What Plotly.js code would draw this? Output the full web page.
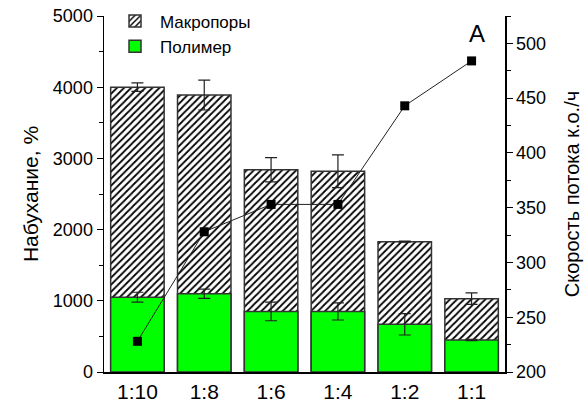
<!DOCTYPE html>
<html><head><meta charset="utf-8">
<script src="https://cdn.plot.ly/plotly-3.0.1.min.js"></script>
<style>body{margin:0;padding:0;background:#fff}#chart{width:588px;height:412px}</style>
</head><body><div id="chart"></div>
<script>
const categories = ["1:10", "1:8", "1:6", "1:4", "1:2", "1:1"];
const totalSwelling = [4000, 3890, 2840, 2820, 1830, 1030];
const totalError = [60, 210, 170, 230, 8, 80];
const polymerSwelling = [1050, 1100, 850, 850, 670, 450];
const polymerError = [70, 65, 130, 120, 150, 10];
const flowRate = [228, 328, 353, 353, 443, 484];

const font = "Liberation Sans, Arial, sans-serif";

const traces = [
  {
    type: "bar", name: "Макропоры", x: categories, y: totalSwelling,
    width: 0.8,
    marker: {color: "#fff", line: {color: "#333", width: 1.5},
      pattern: {shape: "/", fgcolor: "#000", bgcolor: "#fff", size: 5, solidity: 0.35, fillmode: "replace"}},
    error_y: {type: "data", array: totalError, visible: true, color: "#222", thickness: 1.2, width: 6}
  },
  {
    type: "bar", name: "Полимер", x: categories, y: polymerSwelling,
    width: 0.8,
    marker: {color: "#00ff00", line: {color: "#333", width: 1.5}},
    error_y: {type: "data", array: polymerError, visible: true, color: "#222", thickness: 1.2, width: 6}
  },
  {
    type: "scatter", mode: "lines+markers", x: categories, y: flowRate, yaxis: "y2",
    showlegend: false,
    line: {color: "#222", width: 1},
    marker: {symbol: "square", size: 9, color: "#000"}
  }
];

const layout = {
  width: 588, height: 412,
  margin: {l: 104, r: 83, t: 16, b: 40, autoexpand: false},
  paper_bgcolor: "#fff", plot_bgcolor: "#fff",
  barmode: "overlay",
  showlegend: true,
  legend: {x: 0.015, y: 1.035, xanchor: "left", yanchor: "top", bgcolor: "rgba(0,0,0,0)",
    font: {family: font, size: 17, color: "#000"}, tracegroupgap: 0, itemwidth: 40},
  font: {family: font, color: "#000"},
  xaxis: {
    type: "category", range: [-0.5, 5.5], showline: true, linecolor: "#000", linewidth: 1.5,
    ticks: "", showgrid: false, tickfont: {family: font, size: 21, color: "#000"}
  },
  yaxis: {
    range: [0, 5000], tickvals: [0, 1000, 2000, 3000, 4000, 5000],
    showline: true, linecolor: "#000", linewidth: 1.5, ticks: "outside", ticklen: 6, tickcolor: "#000",
    minor: {tickvals: [500, 1500, 2500, 3500, 4500], ticks: "outside", ticklen: 4, tickcolor: "#000"},
    showgrid: false, zeroline: false, tickfont: {family: font, size: 18, color: "#000"},
    title: {text: "Набухание, %", font: {family: font, size: 21, color: "#000"}, standoff: 8}
  },
  yaxis2: {
    overlaying: "y", side: "right", range: [200, 525],
    tickvals: [200, 250, 300, 350, 400, 450, 500],
    showline: true, linecolor: "#000", linewidth: 1.5, ticks: "outside", ticklen: 6, tickcolor: "#000",
    minor: {tickvals: [225, 275, 325, 375, 425, 475, 525], ticks: "outside", ticklen: 4, tickcolor: "#000"},
    showgrid: false, zeroline: false, tickfont: {family: font, size: 18, color: "#000"},
    title: {text: "Скорость потока к.о./ч", font: {family: font, size: 20, color: "#000"}, standoff: 20}
  },
  annotations: [{
    text: "A", xref: "paper", yref: "paper", x: 0.929, y: 0.95, xanchor: "center", yanchor: "middle",
    showarrow: false, font: {family: font, size: 24, color: "#000"}
  }]
};

Plotly.newPlot("chart", traces, layout, {displayModeBar: false, staticPlot: true});
</script>
</body></html>
